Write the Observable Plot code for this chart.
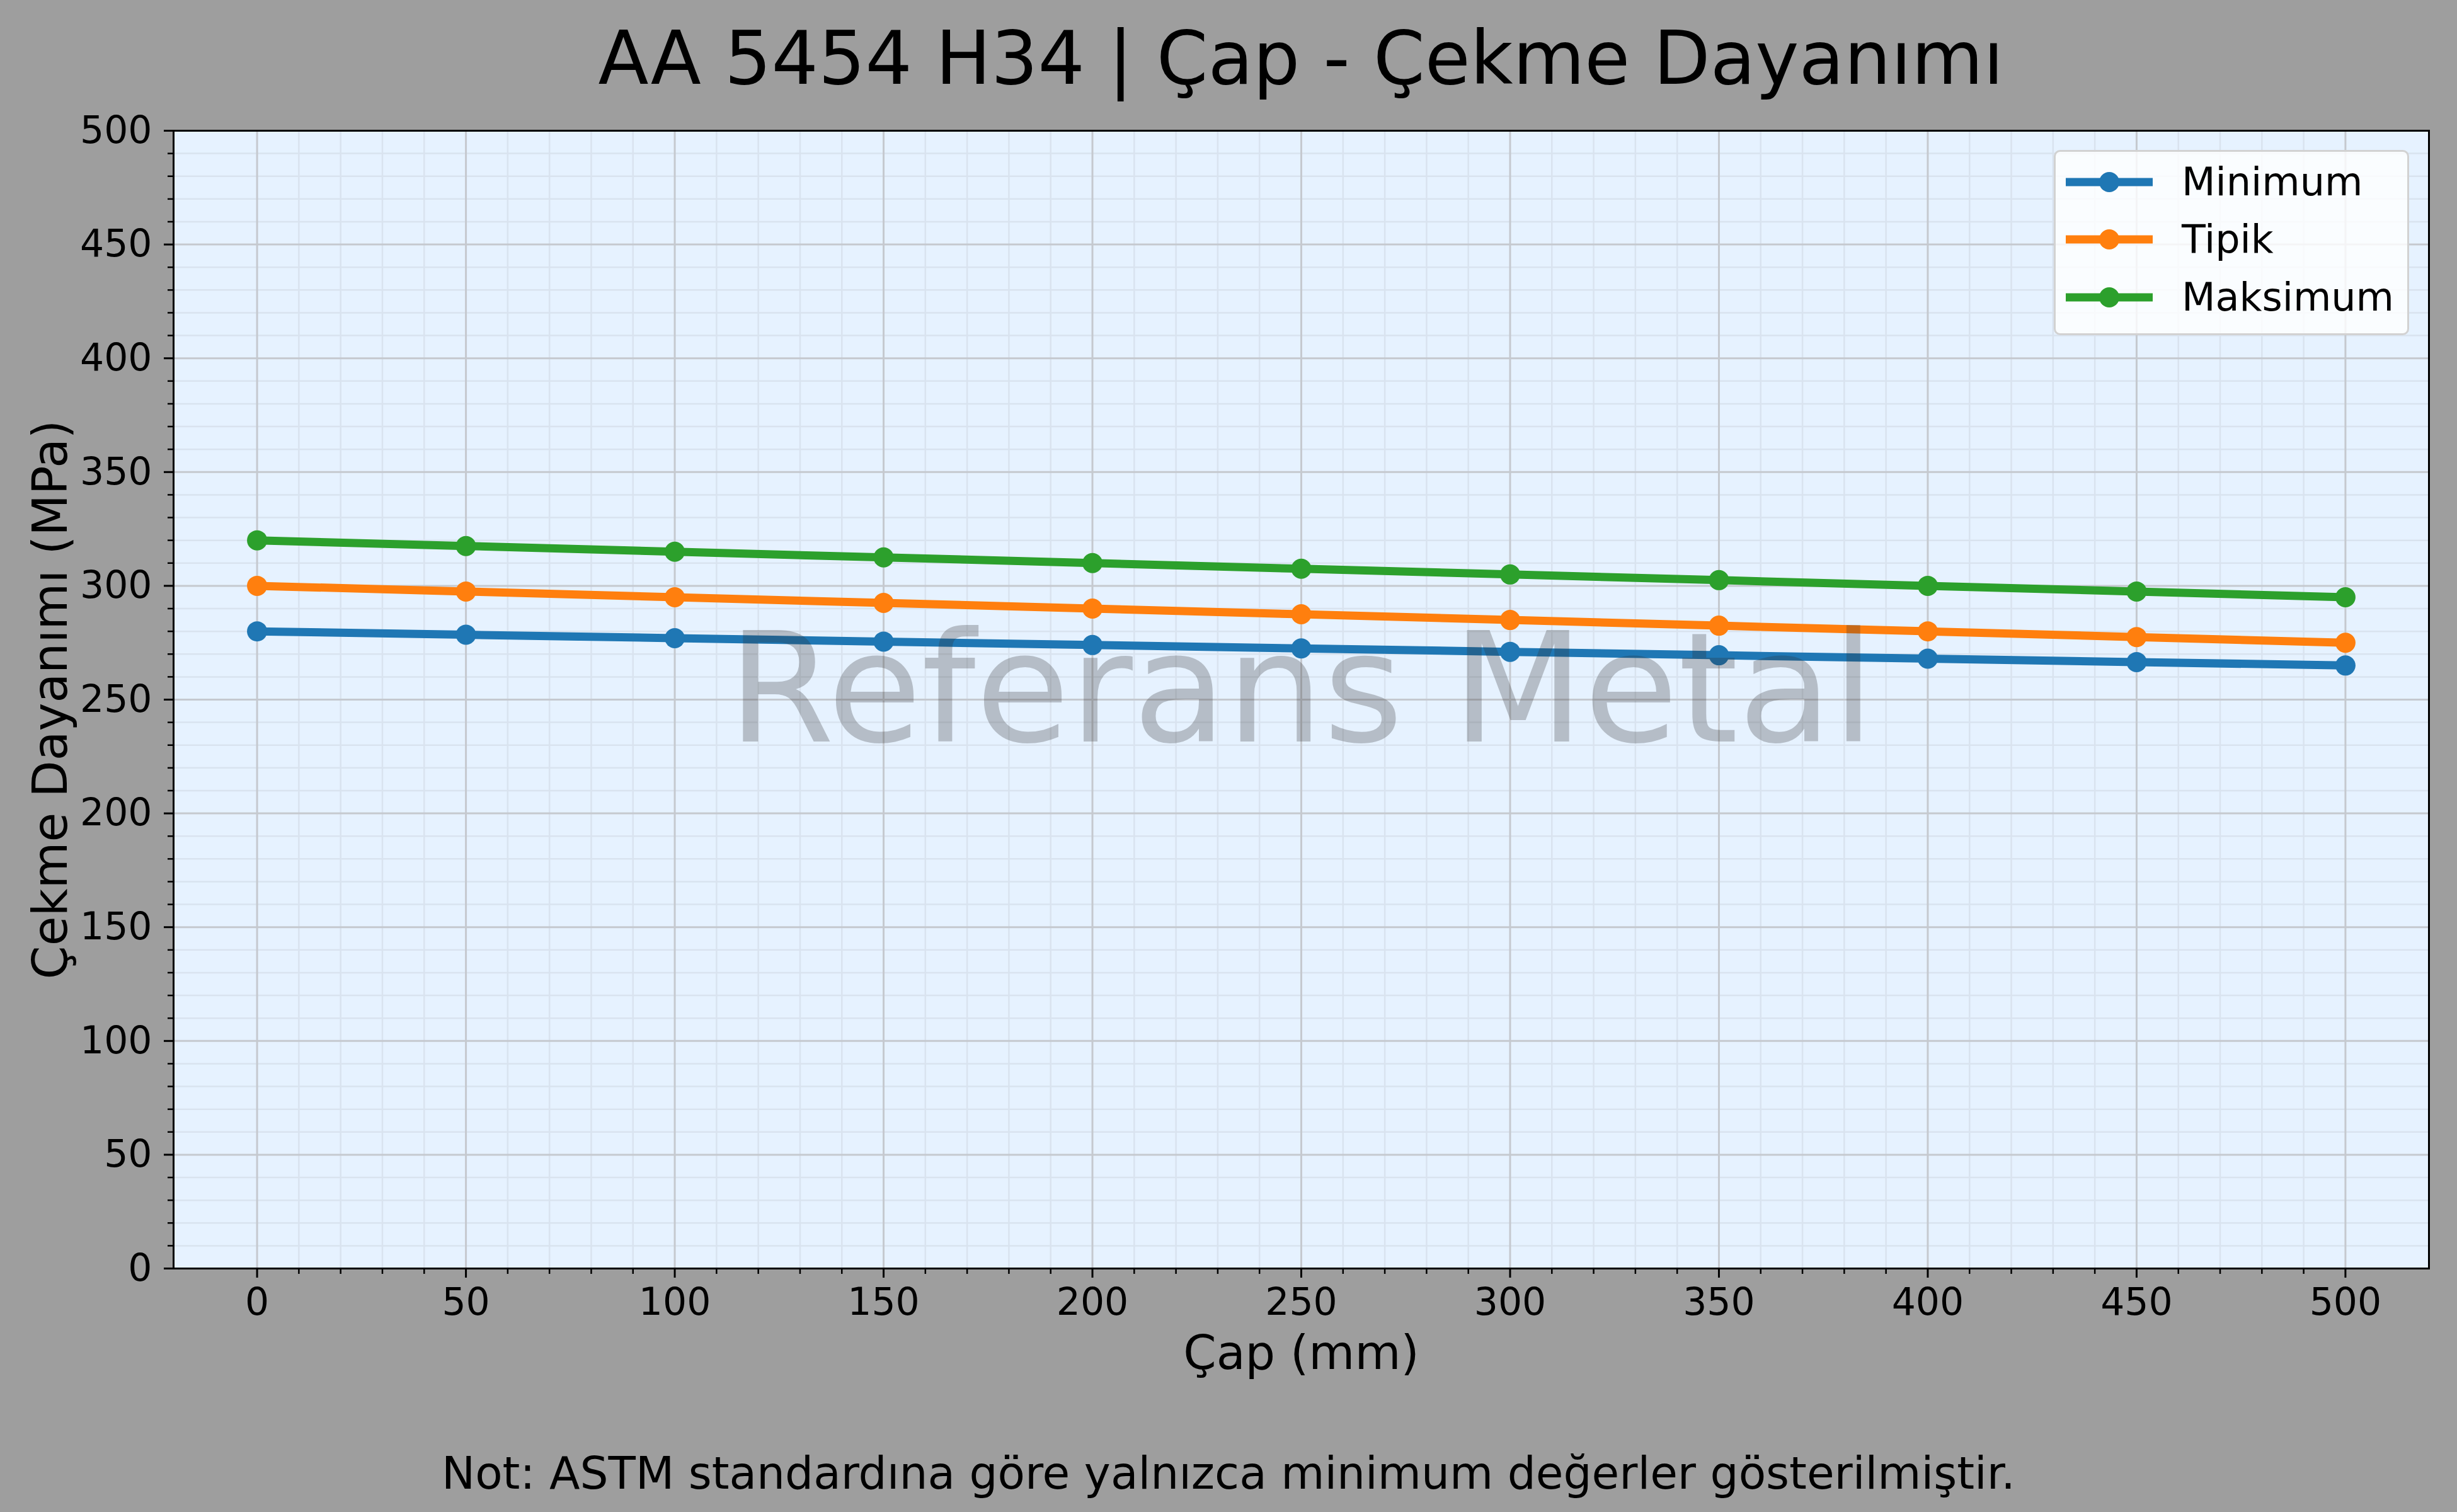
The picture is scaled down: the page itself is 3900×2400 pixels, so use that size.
<!DOCTYPE html>
<html>
<head>
<meta charset="utf-8">
<script src="https://cdn.jsdelivr.net/npm/d3@7"></script>
<script src="https://cdn.jsdelivr.net/npm/@observablehq/plot@0.6"></script>
<style>
  html, body { margin: 0; padding: 0; background: #9e9e9e; }
  #wrap { position: relative; width: 3900px; height: 2400px; background: #9e9e9e; font-family: "DejaVu Sans", sans-serif; color: #000; overflow: hidden; }
  #title { position: absolute; top: 34px; left: 230px; width: 3670px; text-align: center; font-size: 117px; line-height: 1; white-space: nowrap; }
  #chart { position: absolute; top: 180px; left: 0; }
  #caption { position: absolute; top: 2303px; left: 0; width: 3900px; text-align: center; font-size: 71px; line-height: 1; white-space: nowrap; }
  #legend { position: absolute; left: 3260px; top: 238px; width: 564px; height: 294px; box-sizing: border-box; border: 3px solid #d2d2d2; border-radius: 10px; background: rgba(255,255,255,0.8); padding-top: 2px; }
  .row { display: flex; align-items: center; height: 91.5px; }
  .row svg { margin-left: 16px; display: block; }
  .row span { margin-left: 46px; font-size: 62px; line-height: 1; }
</style>
</head>
<body>
<div id="wrap">
  <div id="title"></div>
  <div id="chart"></div>
  <div id="legend"></div>
  <div id="caption"></div>
</div>
<script>
// ---- data ----
const titleText = "AA 5454 H34 | Çap - Çekme Dayanımı";
const xLabel = "Çap (mm)";
const yLabel = "Çekme Dayanımı (MPa)";
const captionText = "Not: ASTM standardına göre yalnızca minimum değerler gösterilmiştir.";
const watermark = "Referans Metal";

const diameters = [0, 50, 100, 150, 200, 250, 300, 350, 400, 450, 500];
const minimum   = [280, 278.5, 277, 275.5, 274, 272.5, 271, 269.5, 268, 266.5, 265];
const tipik     = [300, 297.5, 295, 292.5, 290, 287.5, 285, 282.5, 280, 277.5, 275];
const maksimum  = [320, 317.5, 315, 312.5, 310, 307.5, 305, 302.5, 300, 297.5, 295];

const seriesNames  = ["Minimum", "Tipik", "Maksimum"];
const seriesValues = [minimum, tipik, maksimum];
const seriesColors = ["#1f77b4", "#ff7f0e", "#2ca02c"];

const xTicks = [0, 50, 100, 150, 200, 250, 300, 350, 400, 450, 500];
const yTicks = [0, 50, 100, 150, 200, 250, 300, 350, 400, 450, 500];
const xMinor = [10, 20, 30, 40, 60, 70, 80, 90, 110, 120, 130, 140, 160, 170, 180, 190,
                210, 220, 230, 240, 260, 270, 280, 290, 310, 320, 330, 340, 360, 370, 380, 390,
                410, 420, 430, 440, 460, 470, 480, 490];
const yMinor = [10, 20, 30, 40, 60, 70, 80, 90, 110, 120, 130, 140, 160, 170, 180, 190,
                210, 220, 230, 240, 260, 270, 280, 290, 310, 320, 330, 340, 360, 370, 380, 390,
                410, 420, 430, 440, 460, 470, 480, 490];
const xDomain = [-20, 520];
const yDomain = [0, 500];

// ---- table ----
const rows = [];
seriesNames.forEach((name, i) => {
  diameters.forEach((d, j) => rows.push({series: name, x: d, y: seriesValues[i][j]}));
});

// ---- text ----
document.getElementById("title").textContent = titleText;
document.getElementById("caption").textContent = captionText;

// ---- chart ----
const gridMinor = "#d9e3ef";
const gridMajor = "#c5c9cf";

const chart = Plot.plot({
  width: 3900,
  height: 2070,
  marginLeft: 275,
  marginRight: 45,
  marginTop: 27,
  marginBottom: 237,
  style: {fontFamily: "DejaVu Sans", background: "transparent", color: "#000", overflow: "visible"},
  x: {domain: xDomain, axis: null},
  y: {domain: yDomain, axis: null},
  color: {domain: seriesNames, range: seriesColors},
  marks: [
    Plot.frame({fill: "#e6f2ff", stroke: null}),
    Plot.gridX(xMinor, {stroke: gridMinor, strokeOpacity: 1, strokeWidth: 2.5}),
    Plot.gridY(yMinor, {stroke: gridMinor, strokeOpacity: 1, strokeWidth: 2.5}),
    Plot.gridX(xTicks, {stroke: gridMajor, strokeOpacity: 1, strokeWidth: 3}),
    Plot.gridY(yTicks, {stroke: gridMajor, strokeOpacity: 1, strokeWidth: 3}),
    Plot.line(rows, {x: "x", y: "y", z: "series", stroke: "series", strokeWidth: 13}),
    Plot.dot(rows, {x: "x", y: "y", fill: "series", r: 16, stroke: null}),
    Plot.text([watermark], {frameAnchor: "middle", fontSize: 243, fill: "#303030", fillOpacity: 0.27, dy: -11}),
    Plot.axisX(xMinor, {tickSize: 9, strokeWidth: 2.5, tickFormat: () => "", label: null}),
    Plot.axisY(yMinor, {tickSize: 9, strokeWidth: 2.5, tickFormat: () => "", label: null}),
    Plot.axisX(xTicks, {tickSize: 15, tickPadding: 16, strokeWidth: 3, fontSize: 60, label: null}),
    Plot.axisY(yTicks, {tickSize: 15, tickPadding: 19, strokeWidth: 3, fontSize: 60, label: null}),
    Plot.frame({stroke: "#000", strokeWidth: 3}),
    Plot.text([xLabel], {frameAnchor: "bottom", fontSize: 75, dy: 135, lineAnchor: "middle", textAnchor: "middle"}),
    Plot.text([yLabel], {frameAnchor: "left", fontSize: 76, rotate: -90, dx: -194, lineAnchor: "middle", textAnchor: "middle"})
  ]
});
document.getElementById("chart").appendChild(chart);

// ---- legend ----
const legend = d3.select("#legend");
seriesNames.forEach((name, i) => {
  const row = legend.append("div").attr("class", "row");
  const svg = row.append("svg").attr("width", 138).attr("height", 40);
  svg.append("line").attr("x1", 0).attr("x2", 138).attr("y1", 20).attr("y2", 20)
     .attr("stroke", seriesColors[i]).attr("stroke-width", 13);
  svg.append("circle").attr("cx", 69).attr("cy", 20).attr("r", 16).attr("fill", seriesColors[i]);
  row.append("span").text(name);
});
</script>
</body>
</html>
